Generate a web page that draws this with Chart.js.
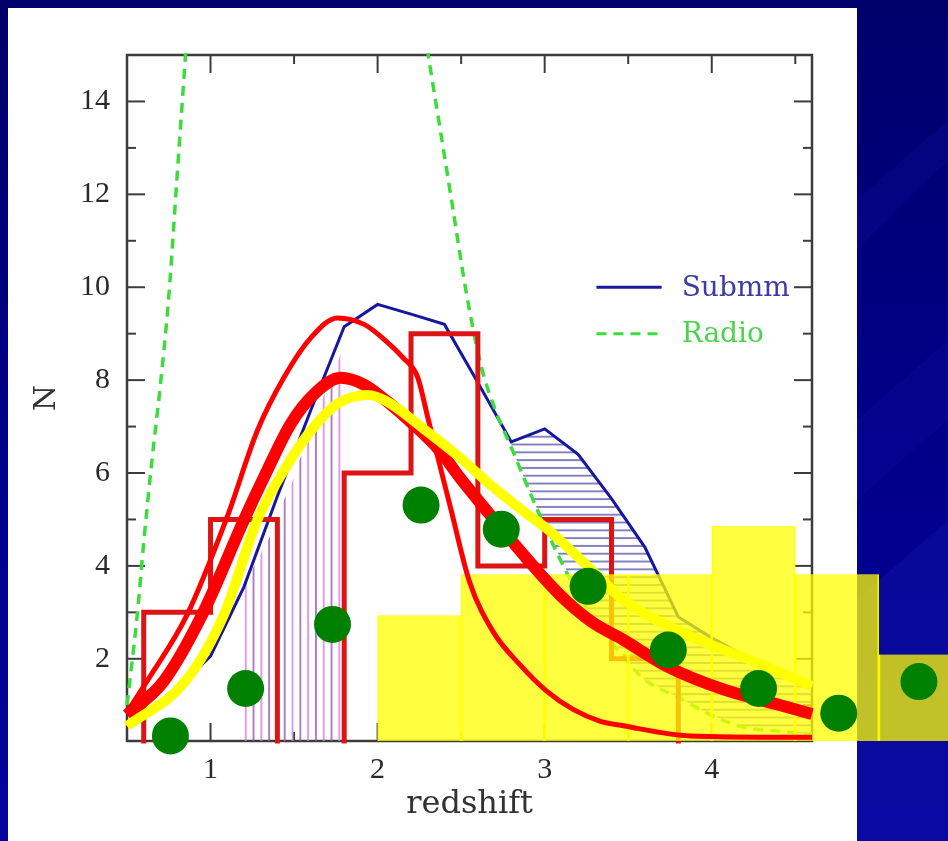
<!DOCTYPE html>
<html><head><meta charset="utf-8">
<script src="https://cdn.jsdelivr.net/npm/chart.js@4"></script>
<style>html,body{margin:0;padding:0;background:#000080;overflow:hidden}canvas{display:block}</style>
</head><body>
<canvas id="c" width="948" height="841"></canvas>
<script>
// ---------- axis ranges & ticks ----------
const X_RANGE = [0.5, 4.6];
const Y_RANGE = [0.23, 15];
const X_TICKS = [1, 2, 3, 4];
const X_MINOR_TICKS = [1.5, 2.5, 3.5, 4.5];
const Y_TICKS = [2, 4, 6, 8, 10, 12, 14];
const Y_MINOR_TICKS = [1, 3, 5, 7, 9, 11, 13];

// ---------- red histogram (bin edges / counts) ----------
const HIST_EDGES = [0.6, 1.0, 1.4, 1.8, 2.2, 2.6, 3.0, 3.4, 3.8];
const HIST_COUNTS = [3, 5, 0, 6, 9, 4, 5, 2];

// ---------- Submm (blue) ----------
const SUBMM_X = [0.6, 0.8, 1.0, 1.2, 1.4, 1.6, 1.8, 2.0, 2.2, 2.4, 2.6, 2.8, 3.0, 3.2, 3.4, 3.6, 3.8, 4.0, 4.2, 4.4, 4.6];
const SUBMM_N = [0.8, 1.35, 2.06, 3.55, 5.5, 7.35, 9.15, 9.63, 9.42, 9.2, 7.95, 6.67, 6.95, 6.4, 5.45, 4.4, 2.9, 2.45, 2.06, 1.7, 1.38];

// ---------- Radio (green dashed) ----------
const RADIO_LEFT_X = [0.5, 0.56, 0.6, 0.65, 0.7, 0.75, 0.8, 0.86];
const RADIO_LEFT_N = [1.0, 2.9, 4.5, 6.3, 7.9, 9.8, 12.4, 15.5];
const RADIO_RIGHT_X = [2.28, 2.37, 2.45, 2.53, 2.62, 2.70, 2.8, 3.0, 3.2, 3.4, 3.6, 3.8, 4.0, 4.2, 4.4, 4.6];
const RADIO_RIGHT_N = [15.5, 13.5, 11.7, 9.9, 8.3, 7.4, 6.55, 4.85, 3.4, 2.35, 1.55, 1.17, 0.78, 0.52, 0.44, 0.38];

// ---------- vertical-hatched submm core (tops of hatch lines) ----------
const CORE_X = [1.2, 1.26, 1.31, 1.36, 1.44, 1.49, 1.53, 1.58, 1.62, 1.67, 1.71, 1.785];
const CORE_N = [3.64, 3.99, 4.32, 4.66, 5.42, 5.81, 6.27, 6.65, 7.07, 7.6, 7.93, 8.61];
const HATCH_FROM = 2.8;

// ---------- model curves ----------
const THIN_X = [0.5, 0.62, 0.86, 1.1, 1.28, 1.44, 1.6, 1.76, 1.92, 2.05, 2.15, 2.24, 2.3, 2.37, 2.44, 2.55, 2.69, 2.85, 3.01, 3.17, 3.33, 3.47, 3.87, 4.6];
const THIN_N = [0.85, 1.52, 2.95, 5.06, 6.91, 8.06, 8.91, 9.34, 9.2, 8.84, 8.49, 8.06, 7.2, 6.2, 5.2, 3.66, 2.59, 1.88, 1.31, 0.91, 0.66, 0.56, 0.34, 0.31];
const THICK_X = [0.5, 0.72, 0.95, 1.2, 1.32, 1.48, 1.62, 1.78, 1.92, 2.05, 2.21, 2.37, 2.49, 2.65, 2.89, 3.09, 3.28, 3.47, 3.73, 4.07, 4.39, 4.6];
const THICK_N = [0.79, 1.52, 2.95, 4.99, 5.91, 7.06, 7.7, 8.05, 7.9, 7.56, 7.06, 6.49, 5.91, 5.2, 4.17, 3.38, 2.8, 2.41, 1.84, 1.34, 1.02, 0.81];
const YELLOW_X = [0.5, 0.85, 1.08, 1.28, 1.44, 1.6, 1.76, 1.94, 2.05, 2.29, 2.49, 2.69, 2.89, 3.01, 3.29, 3.47, 3.87, 4.27, 4.6];
const YELLOW_N = [0.55, 1.52, 2.95, 4.99, 6.06, 6.91, 7.49, 7.68, 7.55, 6.91, 6.34, 5.7, 5.13, 4.81, 3.88, 3.27, 2.49, 1.92, 1.41];

// ---------- yellow bins & green points ----------
const BAR_X = [2.25, 2.75, 3.25, 3.75, 4.25, 4.75, 5.25];
const BAR_N = [2.94, 3.82, 3.82, 3.82, 4.86, 3.82, 2.09];
const DOT_X = [0.76, 1.21, 1.73, 2.26, 2.74, 3.26, 3.74, 4.28, 4.76, 5.24];
const DOT_N = [0.34, 1.36, 2.74, 5.31, 4.79, 3.56, 2.19, 1.36, 0.83, 1.51];

const LEGEND_LABELS = ['Submm', 'Radio'];

// ---------- helpers ----------
const pts = (xs, ys) => xs.map((x, i) => ({x, y: ys[i]}));
const histPts = [{x: HIST_EDGES[0], y: 0}];
HIST_COUNTS.forEach((c, i) => histPts.push({x: HIST_EDGES[i + 1], y: c}));
histPts.push({x: HIST_EDGES[HIST_EDGES.length - 1], y: 0});
const hatchTop = pts(SUBMM_X, SUBMM_N).filter(p => p.x >= HATCH_FROM - 1e-9);
const hatchBottom = pts(RADIO_RIGHT_X, RADIO_RIGHT_N).filter(p => p.x >= HATCH_FROM - 1e-9);

const canvas = document.getElementById('c');
const ctx0 = canvas.getContext('2d');
function hPattern() {
  const c = document.createElement('canvas'); c.width = 8; c.height = 8;
  const g = c.getContext('2d');
  g.strokeStyle = 'rgba(45,45,150,0.85)'; g.lineWidth = 1.4;
  g.beginPath(); g.moveTo(0, 4); g.lineTo(8, 4); g.stroke();
  const p = ctx0.createPattern(c, 'repeat');
  p.setTransform(new DOMMatrix([1, 0, 0, 0.975, 0, 3.8]));
  return p;
}
function vPattern() {
  const c = document.createElement('canvas'); c.width = 16; c.height = 8;
  const g = c.getContext('2d'); g.lineWidth = 1.6;
  g.strokeStyle = '#dc80de'; g.beginPath(); g.moveTo(4, 0); g.lineTo(4, 8); g.stroke();
  g.strokeStyle = '#9c5cb4'; g.beginPath(); g.moveTo(12, 0); g.lineTo(12, 8); g.stroke();
  const p = ctx0.createPattern(c, 'repeat');
  p.setTransform(new DOMMatrix([0.975, 0, 0, 1, 7.8, 0]));
  return p;
}

function seg(ctx, x1, y1, x2, y2) { ctx.beginPath(); ctx.moveTo(x1, y1); ctx.lineTo(x2, y2); ctx.stroke(); }

const deco = {
  id: 'deco',
  beforeDraw(chart) {
    const {ctx, width, height} = chart;
    ctx.save();
    const g = ctx.createLinearGradient(0, 0, 0, height);
    g.addColorStop(0, '#00006a'); g.addColorStop(0.5, '#000088'); g.addColorStop(1, '#04049c');
    ctx.fillStyle = g; ctx.fillRect(0, 0, width, height);
    ctx.fillStyle = 'rgba(20,20,170,0.22)';
    ctx.beginPath(); ctx.moveTo(857, 200); ctx.lineTo(948, 120); ctx.lineTo(948, 160); ctx.lineTo(857, 250); ctx.fill();
    ctx.beginPath(); ctx.moveTo(857, 420); ctx.lineTo(948, 340); ctx.lineTo(948, 420); ctx.lineTo(857, 500); ctx.fill();
    ctx.fillStyle = 'rgba(25,25,180,0.3)';
    ctx.beginPath(); ctx.moveTo(857, 600); ctx.lineTo(948, 520); ctx.lineTo(948, 841); ctx.lineTo(857, 841); ctx.fill();
    ctx.fillStyle = '#ffffff'; ctx.fillRect(8, 8, 849, 833);
    ctx.restore();
  },
  beforeDatasetsDraw(chart) {
    const {ctx, chartArea: a, scales: {x, y}} = chart;
    ctx.save();
    ctx.strokeStyle = '#3c3c3c'; ctx.lineWidth = 2; ctx.lineCap = 'butt';
    const MAJ = 18, MIN = 9;
    X_TICKS.forEach(v => { const p = x.getPixelForValue(v); seg(ctx, p, a.bottom, p, a.bottom - MAJ); seg(ctx, p, a.top, p, a.top + MAJ); });
    X_MINOR_TICKS.forEach(v => { const p = x.getPixelForValue(v); seg(ctx, p, a.bottom, p, a.bottom - MIN); seg(ctx, p, a.top, p, a.top + MIN); });
    Y_TICKS.forEach(v => { const p = y.getPixelForValue(v); seg(ctx, a.left, p, a.left + MAJ, p); seg(ctx, a.right, p, a.right - MAJ, p); });
    Y_MINOR_TICKS.forEach(v => { const p = y.getPixelForValue(v); seg(ctx, a.left, p, a.left + MIN, p); seg(ctx, a.right, p, a.right - MIN, p); });
    ctx.lineWidth = 2.5;
    ctx.strokeRect(a.left, a.top, a.right - a.left, a.bottom - a.top);
    // legend
    const lx0 = x.getPixelForValue(3.31), lx1 = x.getPixelForValue(3.70), tx = x.getPixelForValue(3.82);
    const y1 = y.getPixelForValue(10), y2 = y.getPixelForValue(9);
    ctx.lineWidth = 3; ctx.strokeStyle = '#1a1a9c'; seg(ctx, lx0, y1, lx1, y1);
    ctx.strokeStyle = '#3ddc3d'; ctx.setLineDash([10, 7]); seg(ctx, lx0, y2, lx1, y2); ctx.setLineDash([]);
    ctx.font = '28px "DejaVu Serif"'; ctx.textBaseline = 'middle'; ctx.textAlign = 'left';
    ctx.fillStyle = '#3c3ca4'; ctx.fillText(LEGEND_LABELS[0], tx, y1 + 1);
    ctx.fillStyle = '#4fd24f'; ctx.fillText(LEGEND_LABELS[1], tx, y2 + 1);
    ctx.restore();
  },
  afterDatasetsDraw(chart) {
    // points whose centres lie beyond the frame are skipped by Chart.js; draw them with the element's own draw()
    const a = chart.chartArea;
    const wide = {left: -1e5, top: -1e5, right: 1e5, bottom: 1e5};
    chart.getDatasetMeta(0).data.forEach(el => {
      if (el.x < a.left || el.x > a.right || el.y < a.top || el.y > a.bottom) el.draw(chart.ctx, wide);
    });
  }
};

const lineBase = {type: 'line', pointRadius: 0, fill: false, cubicInterpolationMode: 'monotone'};

new Chart(canvas, {
  type: 'line',
  data: {datasets: [
    {type: 'line', label: 'Points', data: pts(DOT_X, DOT_N), showLine: false, pointRadius: 18.5, pointBackgroundColor: '#008000', pointBorderWidth: 0, clip: false, order: 0},
    {...lineBase, label: 'Model 3', data: pts(YELLOW_X, YELLOW_N), borderColor: '#ffff00', borderWidth: 10, order: 1},
    {...lineBase, label: 'Model 2', data: pts(THICK_X, THICK_N), borderColor: '#ff0000', borderWidth: 12, order: 2},
    {...lineBase, label: 'Model 1', data: pts(THIN_X, THIN_N), borderColor: '#ff0000', borderWidth: 5, order: 3},
    {type: 'bar', label: 'Bins', data: pts(BAR_X, BAR_N), backgroundColor: 'rgba(255,255,0,0.75)', borderColor: 'rgba(255,255,0,0.95)',
     borderWidth: {left: 1, right: 1, top: 0, bottom: 0}, borderSkipped: false, barPercentage: 1, categoryPercentage: 1,
     clip: {left: 0, top: 0, right: false, bottom: 0}, order: 4},
    {type: 'line', label: 'Histogram', data: histPts, stepped: 'after', borderColor: '#dc1414', borderWidth: 5, borderJoinStyle: 'miter', pointRadius: 0, fill: false, clip: 2.5, order: 5},
    {...lineBase, label: 'Radio', data: pts(RADIO_LEFT_X, RADIO_LEFT_N), borderColor: '#3ddc3d', borderWidth: 3.5, borderDash: [10, 7], order: 6},
    {...lineBase, label: 'Radio high-z', data: pts(RADIO_RIGHT_X, RADIO_RIGHT_N), borderColor: '#3ddc3d', borderWidth: 3.5, borderDash: [10, 7], order: 6},
    {type: 'line', label: 'Submm', data: pts(SUBMM_X, SUBMM_N), borderColor: '#1616a0', borderWidth: 3, pointRadius: 0, tension: 0, fill: false, order: 7},
    {type: 'line', label: 'hatch floor', data: hatchBottom, borderWidth: 0, pointRadius: 0, tension: 0, fill: false, order: 8},
    {type: 'line', label: 'hatch', data: hatchTop, borderWidth: 0, pointRadius: 0, tension: 0, fill: {target: 9}, backgroundColor: hPattern(), order: 8},
    {type: 'line', label: 'core', data: pts(CORE_X, CORE_N), borderWidth: 0, pointRadius: 0, tension: 0, fill: 'origin', backgroundColor: vPattern(), order: 8}
  ]},
  options: {
    responsive: false, devicePixelRatio: 1, animation: false, events: [],
    layout: {padding: {left: 0, top: 55, right: 136, bottom: 0}},
    plugins: {legend: {display: false}, tooltip: {enabled: false}},
    scales: {
      x: {
        type: 'linear', position: 'bottom', bounds: 'data', offset: false,
        afterDataLimits: s => { s.min = X_RANGE[0]; s.max = X_RANGE[1]; },
        afterBuildTicks: s => { s.ticks = X_TICKS.map(v => ({value: v})); },
        afterFit: s => { s.height = 100; s.paddingLeft = 0; s.paddingRight = 0; s.paddingTop = 0; s.paddingBottom = 0; },
        grid: {display: false, drawTicks: false, offset: false}, border: {display: false},
        ticks: {font: {family: 'Liberation Serif', size: 30}, color: '#2a2a2a', padding: 11, maxRotation: 0, autoSkip: false, callback: v => String(v)},
        title: {display: true, text: 'redshift', font: {family: 'DejaVu Serif', size: 32}, color: '#333333', padding: {top: 0, bottom: 17}}
      },
      y: {
        type: 'linear', position: 'left', bounds: 'data', offset: false, beginAtZero: false,
        afterDataLimits: s => { s.min = Y_RANGE[0]; s.max = Y_RANGE[1]; },
        afterBuildTicks: s => { s.ticks = Y_TICKS.map(v => ({value: v})); },
        afterFit: s => { s.width = 127; s.paddingLeft = 0; s.paddingRight = 0; s.paddingTop = 0; s.paddingBottom = 0; },
        grid: {display: false, drawTicks: false}, border: {display: false},
        ticks: {font: {family: 'Liberation Serif', size: 30}, color: '#2a2a2a', padding: 17, autoSkip: false, callback: v => String(v)},
        title: {display: true, text: 'N', font: {family: 'DejaVu Serif', size: 30}, color: '#333333', padding: {top: 29, bottom: 0}}
      }
    }
  },
  plugins: [deco]
});
</script>
</body></html>
